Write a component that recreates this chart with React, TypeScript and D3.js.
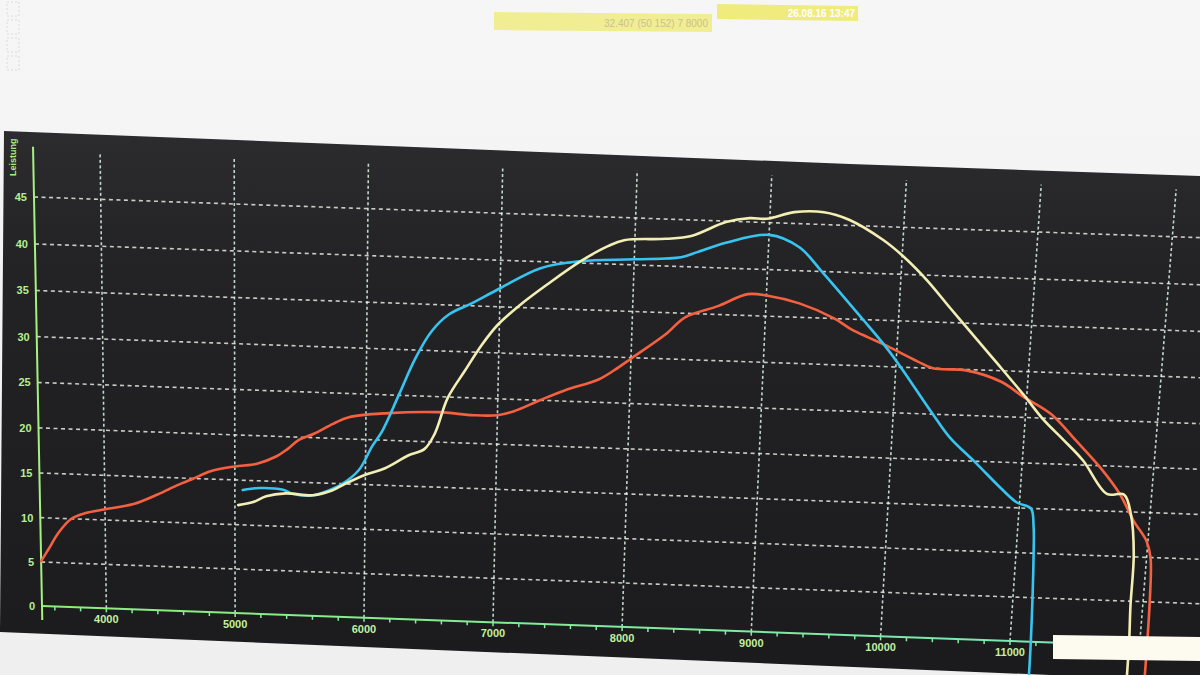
import React from "react";
import * as d3 from "d3";

const RPM_LABELS = [4000, 5000, 6000, 7000, 8000, 9000, 10000, 11000];
const RPM_GRID = [4000, 5000, 6000, 7000, 8000, 9000, 10000, 11000, 12000];
const POWER_TICKS = [0, 5, 10, 15, 20, 25, 30, 35, 40, 45];
const Y_TITLE = "Leistung";
const HEADER_LEFT = "32.407 (50 152) 7 8000";
const HEADER_RIGHT = "26.08.16 13:47";

const redRun: [number, number][] = [
  [3500, 5.1], [3560, 6.5], [3640, 8.4], [3740, 10.0], [3850, 10.7], [4000, 11.2],
  [4220, 11.9], [4410, 13.1], [4560, 14.2], [4670, 14.9], [4820, 15.9], [5000, 16.5],
  [5170, 16.9], [5320, 17.8], [5400, 18.6], [5490, 19.7], [5600, 20.4], [5750, 21.6],
  [5870, 22.4], [6170, 23.0], [6550, 23.3], [6820, 23.1], [7000, 23.2], [7125, 23.7],
  [7320, 25.0], [7510, 26.2], [7760, 27.5], [7880, 28.6], [8010, 30.0], [8250, 32.6],
  [8400, 34.6], [8640, 35.9], [8860, 37.3], [9010, 37.2], [9250, 36.5], [9520, 35.0],
  [9650, 33.9], [9780, 33.1], [9900, 32.4], [10160, 30.7], [10280, 30.0], [10530, 29.9],
  [10800, 28.8], [10970, 27.3], [11190, 25.5], [11400, 22.6], [11600, 19.7], [11760, 16.9],
  [11880, 14.0], [11990, 11.8], [12030, 10.0], [12050, 5.6], [12060, -5],
];

const blueRun: [number, number][] = [
  [5060, 13.9], [5190, 14.2], [5370, 14.1], [5440, 13.7], [5600, 13.6], [5720, 14.2],
  [5820, 14.95], [5950, 16.6], [6050, 19.3], [6125, 21.0], [6250, 25.1], [6370, 29.1],
  [6490, 32.1], [6620, 34.0], [6780, 35.2], [7000, 37.0], [7300, 39.3], [7600, 40.2],
  [8000, 40.6], [8350, 41.0], [8470, 41.6], [8680, 42.7], [9000, 43.7], [9230, 42.5],
  [9400, 40.1], [9740, 34.9], [9900, 32.4], [10010, 30.5], [10300, 25.0], [10440, 22.5],
  [10650, 19.8], [10845, 17.2], [10980, 15.6], [11090, 15.0], [11120, 13.0], [11135, 9.9],
  [11160, 0.4], [11165, -5],
];

const yellowRun: [number, number][] = [
  [5025, 12.2], [5140, 12.6], [5240, 13.3], [5390, 13.7], [5600, 13.6], [5745, 14.2],
  [5845, 15.0], [6000, 16.1], [6150, 16.9], [6325, 18.4], [6450, 19.2], [6525, 20.9],
  [6620, 24.9], [6745, 27.9], [6870, 30.8], [6985, 33.0], [7155, 35.3], [7355, 37.6],
  [7600, 40.2], [7800, 41.9], [7920, 42.6], [8230, 42.9], [8420, 43.3], [8675, 44.9],
  [8850, 45.4], [8975, 45.4], [9180, 46.2], [9400, 46.3], [9590, 45.6], [9850, 43.6],
  [10010, 41.9], [10200, 39.4], [10380, 36.6], [10550, 34.0], [10760, 30.8], [10980, 27.4],
  [11140, 24.8], [11300, 22.7], [11460, 20.5], [11660, 16.9], [11790, 16.9], [11855, 14.7],
  [11900, 10.3], [11906, 4.5], [11918, 0.3], [11922, -5],
];

// scales: data -> unit square
const xS = d3.scaleLinear().domain([3500, 11000]).range([0, 1]);
const yS = d3.scaleLinear().domain([0, 45]).range([0, 1]);

// photo perspective: unit square corners -> screen quad
const Q = [
  [42, 606], // (0,0)
  [1010, 641], // (1,0)
  [1038, 232], // (1,1)
  [34, 197], // (0,1)
];
function homography() {
  const [[x0, y0], [x1, y1], [x2, y2], [x3, y3]] = Q;
  const dx1 = x1 - x2, dx2 = x3 - x2, dx3 = x0 - x1 + x2 - x3;
  const dy1 = y1 - y2, dy2 = y3 - y2, dy3 = y0 - y1 + y2 - y3;
  const den = dx1 * dy2 - dx2 * dy1;
  const g = (dx3 * dy2 - dx2 * dy3) / den;
  const h = (dx1 * dy3 - dx3 * dy1) / den;
  return {
    a: x1 - x0 + g * x1, b: x3 - x0 + h * x3, c: x0,
    d: y1 - y0 + g * y1, e: y3 - y0 + h * y3, f: y0, g, h,
  };
}
const H = homography();
function proj(rpm: number, p: number): [number, number] {
  const u = xS(rpm), v = yS(p);
  const w = H.g * u + H.h * v + 1;
  return [(H.a * u + H.b * v + H.c) / w, (H.d * u + H.e * v + H.f) / w];
}

const lineGen = d3
  .line<[number, number]>()
  .x((d) => proj(d[0], d[1])[0])
  .y((d) => proj(d[0], d[1])[1])
  .curve(d3.curveCatmullRom.alpha(0.5));

const series = [
  { data: redRun, color: "#f5603f" },
  { data: blueRun, color: "#38c4f0" },
  { data: yellowRun, color: "#f3efb4" },
];

export default function App() {
  const minor = d3.range(3600, 12600, 200);
  const font = "Arial, 'Liberation Sans', sans-serif";
  return (
    <svg
      width={1200}
      height={675}
      style={{ position: "absolute", left: 0, top: 0, display: "block" }}
      xmlns="http://www.w3.org/2000/svg"
    >
      <defs>
        <linearGradient id="scr" x1="0" y1="0" x2="0" y2="1">
          <stop offset="0" stopColor="#2c2c2f" />
          <stop offset="0.25" stopColor="#232326" />
          <stop offset="1" stopColor="#1b1b1e" />
        </linearGradient>
        <linearGradient id="xax" x1="0" y1="0" x2="1" y2="0">
          <stop offset="0" stopColor="#8cef78" />
          <stop offset="1" stopColor="#78e6c0" />
        </linearGradient>
        <linearGradient id="paper" x1="0" y1="0" x2="0" y2="1">
          <stop offset="0" stopColor="#f6f6f6" />
          <stop offset="1" stopColor="#efefef" />
        </linearGradient>
        <filter id="glow" x="-5%" y="-5%" width="110%" height="110%">
          <feGaussianBlur stdDeviation="0.6" />
        </filter>
      </defs>
      <rect x={0} y={0} width={1200} height={675} fill="url(#paper)" />
      {/* faint UI marks top-left */}
      {[0, 18, 36, 54].map((yy) => (
        <rect key={yy} x={7} y={yy + 2} width={12} height={14} fill="none" stroke="#dadada" strokeWidth={1} strokeDasharray="2 2" />
      ))}
      {/* header yellow boxes */}
      <polygon points="494,12 712,14 712,32 494,30" fill="#f1ed92" />
      <text x={708} y={27} textAnchor="end" fontFamily={font} fontSize={10} fill="#c9c28a">
        {HEADER_LEFT}
      </text>
      <polygon points="717,4 858,6 858,21 717,19" fill="#efeb7c" />
      <text x={855} y={17} textAnchor="end" fontFamily={font} fontSize={10} fontWeight="bold" fill="#ffffff">
        {HEADER_RIGHT}
      </text>
      {/* screen */}
      <polygon points="4,131 850,164 1200,176 1200,675 1050,675 0,632" fill="url(#scr)" />
      {/* horizontal grid */}
      {POWER_TICKS.filter((p) => p > 0).map((p) => {
        const [xa, ya] = proj(3500, p);
        const [xb, yb] = proj(12600, p);
        return (
          <line key={"h" + p} x1={xa} y1={ya} x2={xb} y2={yb} stroke="#e6ebe2" strokeOpacity={0.85} strokeWidth={1.6} strokeDasharray="4 3.5" />
        );
      })}
      {/* vertical grid */}
      {RPM_GRID.map((r) => {
        const [xa, ya] = proj(r, 0);
        const [xb, yb] = proj(r, 50);
        return (
          <line key={"v" + r} x1={xa} y1={ya} x2={xb} y2={yb} stroke="#dff6e8" strokeOpacity={0.85} strokeWidth={1.6} strokeDasharray="3 2.5" />
        );
      })}
      {/* axes */}
      {(() => {
        const [xa, ya] = proj(3500, 0);
        const [xb, yb] = proj(12600, 0);
        const [ya1x, ya1y] = proj(3500, -1.6);
        const [ya2x, ya2y] = proj(3500, 50.3);
        return (
          <g>
            <line x1={xa} y1={ya} x2={xb} y2={yb} stroke="url(#xax)" strokeWidth={2} />
            <line x1={ya1x} y1={ya1y} x2={ya2x} y2={ya2y} stroke="#a6f07e" strokeWidth={2} />
          </g>
        );
      })()}
      {minor.map((r) => {
        const [x, y] = proj(r, 0);
        return <line key={"t" + r} x1={x} y1={y} x2={x} y2={y + 4} stroke="#86eca0" strokeWidth={1.5} />;
      })}
      {/* curves */}
      <g filter="url(#glow)">
        {series.map((s, i) => (
          <path key={i} d={lineGen(s.data) || ""} fill="none" stroke={s.color} strokeWidth={2.6} strokeLinejoin="round" strokeLinecap="round" />
        ))}
      </g>
      {/* tick labels */}
      {POWER_TICKS.map((p) => {
        const [x, y] = proj(3500, p);
        return (
          <text key={"yl" + p} x={x - 7} y={y + 4} textAnchor="end" fontFamily={font} fontSize={11} fontWeight="bold" fill="#b4ef8e">
            {p}
          </text>
        );
      })}
      {RPM_LABELS.map((r) => {
        const [x, y] = proj(r, 0);
        return (
          <text key={"xl" + r} x={x} y={y + 15} textAnchor="middle" fontFamily={font} fontSize={11} fontWeight="bold" fill="#c2f09e">
            {r}
          </text>
        );
      })}
      <text x={0} y={0} transform="translate(16,176) rotate(-90)" fontFamily={font} fontSize={9} fontWeight="bold" fill="#a6ee80">
        {Y_TITLE}
      </text>
      {/* white tag at bottom right */}
      <polygon points="1053,635 1200,637 1200,661 1053,659" fill="#fdfaf0" />
    </svg>
  );
}
